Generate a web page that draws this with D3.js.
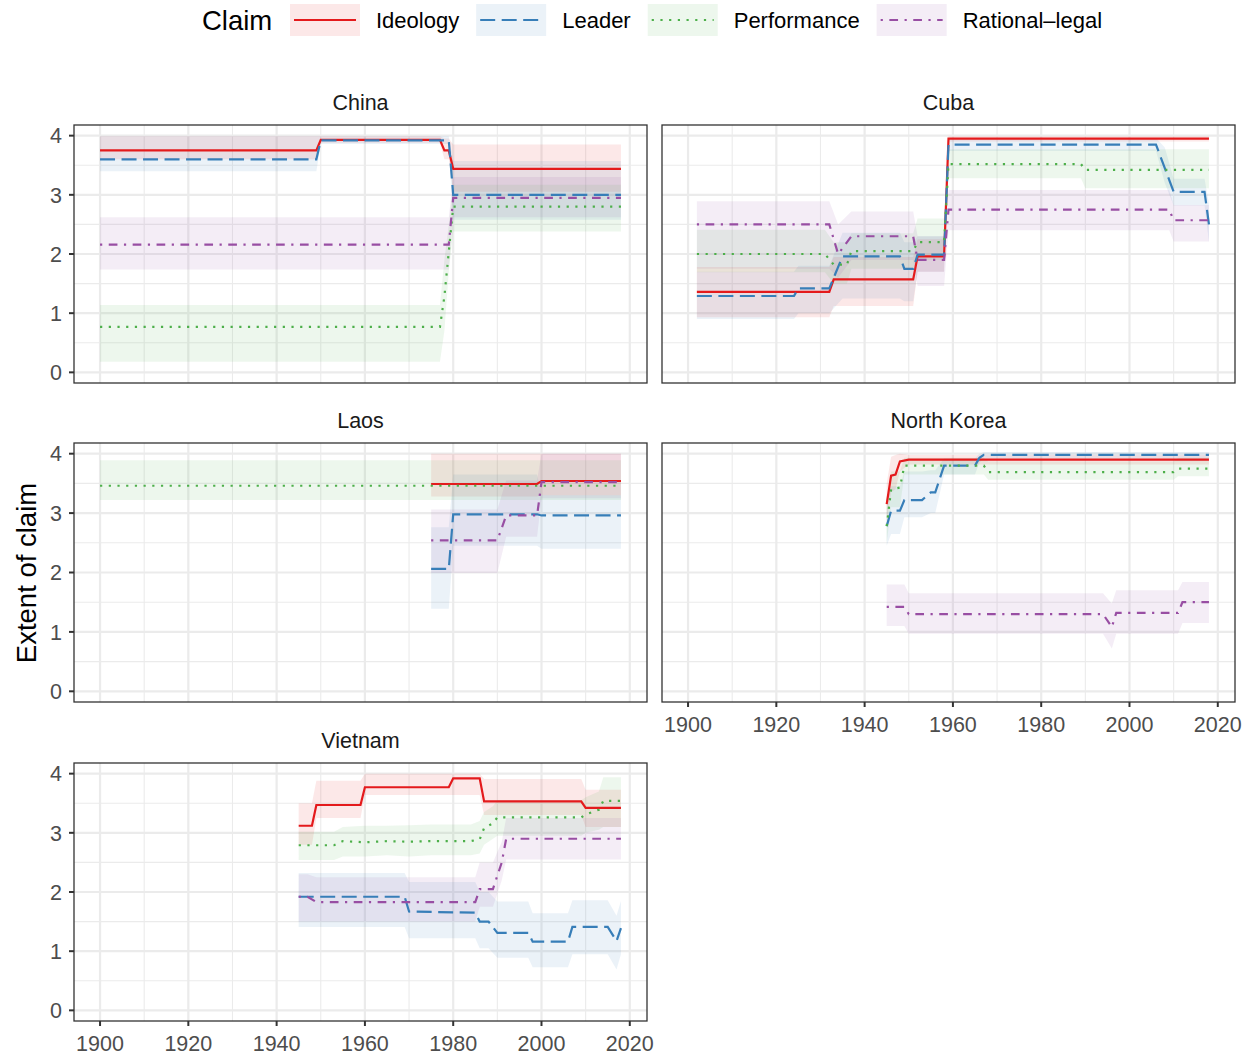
<!DOCTYPE html>
<html>
<head>
<meta charset="utf-8">
<script src="https://cdnjs.cloudflare.com/ajax/libs/d3/7.8.5/d3.min.js"></script>
<style>
  body { margin: 0; background: #fff; }
  svg { display: block; font-family: "Liberation Sans", Arial, Helvetica, sans-serif; }
</style>
</head>
<body>
<svg id="chart" width="1252" height="1057"></svg>
<script>
// categories
const claims = ['Ideology', 'Leader', 'Performance', 'Rational\u2013legal'];
const countries = ['China', 'Cuba', 'Laos', 'North Korea', 'Vietnam'];
const xTicks = [1900, 1920, 1940, 1960, 1980, 2000, 2020];
const xMinor = [1910, 1930, 1950, 1970, 1990, 2010];
const yTicks = [0, 1, 2, 3, 4];
const yMinor = [0.5, 1.5, 2.5, 3.5];

// series: [year, estimate, lower, upper]
const chinaIdeology = [[1900,3.75,3.6,3.99],[1949,3.75,3.6,3.99],[1950,3.93,3.88,3.99],[1977,3.93,3.88,3.99],[1978,3.75,3.6,3.95],[1979,3.75,3.6,3.95],[1980,3.44,3.05,3.85],[2018,3.44,3.05,3.85]];
const chinaLeader = [[1900,3.6,3.4,3.99],[1949,3.6,3.4,3.99],[1950,3.92,3.86,3.99],[1979,3.92,3.86,3.99],[1980,3.0,2.58,3.57],[2018,3.0,2.58,3.57]];
const chinaPerformance = [[1900,0.77,0.18,1.14],[1977,0.77,0.18,1.14],[1978,1.28,0.7,1.9],[1979,2.04,1.7,2.5],[1980,2.8,2.38,3.17],[2018,2.8,2.38,3.17]];
const chinaRational = [[1900,2.16,1.74,2.62],[1979,2.16,1.74,2.62],[1980,2.95,2.62,3.3],[2018,2.95,2.62,3.3]];

const cubaIdeology = [[1902,1.36,0.93,1.78],[1932,1.36,0.93,1.78],[1933,1.57,1.12,1.95],[1951,1.57,1.12,1.95],[1952,1.96,1.7,2.25],[1958,1.96,1.7,2.25],[1959,3.95,3.9,3.99],[2018,3.95,3.9,3.99]];
const cubaLeader = [[1902,1.29,0.9,1.7],[1924,1.29,0.9,1.7],[1925,1.42,1.0,1.8],[1932,1.42,1.0,1.8],[1935,1.96,1.25,2.36],[1948,1.96,1.25,2.36],[1949,1.75,1.2,2.2],[1951,1.75,1.2,2.2],[1952,1.99,1.7,2.3],[1958,1.99,1.7,2.3],[1959,3.85,3.74,3.96],[2006,3.85,3.74,3.96],[2008,3.45,3.2,3.8],[2010,3.05,2.82,3.27],[2017,3.05,2.82,3.27],[2018,2.5,2.2,2.85]];
const cubaPerformance = [[1902,2.0,1.69,2.41],[1931,2.0,1.69,2.41],[1933,1.82,1.5,2.2],[1936,1.82,1.5,2.2],[1937,2.05,1.75,2.35],[1951,2.05,1.75,2.35],[1952,2.2,1.9,2.6],[1958,2.2,1.9,2.6],[1959,3.52,3.28,3.77],[1989,3.52,3.28,3.77],[1990,3.42,3.11,3.77],[2018,3.42,3.11,3.77]];
const cubaRational = [[1902,2.5,1.75,2.89],[1932,2.5,1.75,2.89],[1934,2.0,1.6,2.5],[1937,2.3,1.9,2.72],[1951,2.3,1.9,2.72],[1952,1.9,1.46,2.3],[1958,1.9,1.46,2.3],[1959,2.75,2.4,3.08],[2009,2.75,2.4,3.08],[2010,2.57,2.21,2.83],[2018,2.57,2.21,2.83]];

const laosIdeology = [[1975,3.49,3.28,4.0],[1999,3.49,3.28,4.0],[2000,3.54,3.3,4.0],[2018,3.54,3.3,4.0]];
const laosLeader = [[1975,2.06,1.39,2.76],[1979,2.06,1.39,2.76],[1980,2.98,2.45,3.65],[1999,2.98,2.45,3.65],[2000,2.96,2.4,3.3],[2018,2.96,2.4,3.3]];
const laosPerformance = [[1900,3.46,3.22,3.89],[2018,3.46,3.22,3.89]];
const laosRational = [[1975,2.54,1.99,3.06],[1990,2.54,1.99,3.06],[1992,2.96,2.6,3.55],[1999,2.96,2.6,3.55],[2000,3.52,3.25,4.0],[2018,3.52,3.25,4.0]];

const nkIdeology = [[1945,3.15,2.85,3.5],[1946,3.63,3.35,3.95],[1947,3.65,3.4,3.98],[1948,3.87,3.7,4.0],[1950,3.9,3.82,3.98],[2018,3.9,3.82,3.98]];
const nkLeader = [[1945,2.78,2.45,3.2],[1946,3.04,2.65,3.45],[1948,3.04,2.65,3.45],[1949,3.22,2.93,3.7],[1953,3.22,2.93,3.7],[1955,3.35,3.0,3.72],[1956,3.35,3.0,3.72],[1958,3.8,3.65,3.92],[1965,3.8,3.65,3.92],[1966,3.93,3.85,4.0],[1967,3.98,3.92,4.03],[2018,3.98,3.92,4.03]];
const nkPerformance = [[1945,2.78,2.5,3.1],[1946,3.4,3.1,3.7],[1948,3.43,3.1,3.7],[1949,3.8,3.65,3.93],[1967,3.8,3.65,3.93],[1968,3.69,3.56,3.87],[2010,3.69,3.56,3.87],[2011,3.75,3.62,3.93],[2018,3.75,3.62,3.93]];
const nkRational = [[1945,1.42,1.1,1.8],[1949,1.42,1.1,1.8],[1950,1.3,0.97,1.65],[1994,1.3,0.97,1.65],[1996,1.08,0.72,1.48],[1997,1.32,0.97,1.7],[2011,1.32,0.97,1.7],[2012,1.5,1.15,1.84],[2018,1.5,1.15,1.84]];

const vnIdeology = [[1945,3.12,2.8,3.5],[1948,3.12,2.8,3.5],[1949,3.47,3.25,3.88],[1959,3.47,3.25,3.88],[1960,3.77,3.64,4.0],[1979,3.77,3.64,4.0],[1980,3.92,3.64,4.0],[1986,3.92,3.64,4.0],[1987,3.53,3.3,3.91],[2009,3.53,3.3,3.91],[2010,3.42,3.1,3.73],[2018,3.42,3.1,3.73]];
const vnLeader = [[1945,1.92,1.41,2.32],[1969,1.92,1.41,2.32],[1970,1.67,1.22,2.17],[1985,1.65,1.22,2.17],[1986,1.5,1.05,2.0],[1988,1.5,1.05,2.0],[1990,1.31,0.89,1.84],[1997,1.31,0.89,1.84],[1998,1.16,0.73,1.64],[2006,1.16,0.73,1.64],[2007,1.41,0.95,1.86],[2015,1.41,0.95,1.86],[2017,1.17,0.69,1.6],[2018,1.39,0.95,1.85]];
const vnPerformance = [[1945,2.79,2.54,3.02],[1953,2.79,2.54,3.02],[1955,2.86,2.6,3.1],[1960,2.84,2.6,3.12],[1965,2.86,2.62,3.12],[1970,2.85,2.6,3.13],[1975,2.86,2.62,3.14],[1984,2.86,2.62,3.14],[1986,2.89,2.65,3.2],[1987,3.08,2.8,3.35],[1989,3.16,2.9,3.45],[1990,3.26,2.95,3.55],[2009,3.26,2.95,3.55],[2010,3.31,3.0,3.6],[2013,3.39,3.05,3.7],[2014,3.54,3.1,3.94],[2018,3.54,3.1,3.94]];
const vnRational = [[1945,1.92,1.5,2.3],[1947,1.92,1.5,2.3],[1949,1.83,1.5,2.25],[1985,1.83,1.5,2.25],[1986,2.05,1.75,2.5],[1989,2.05,1.75,2.5],[1991,2.5,2.2,2.85],[1992,2.9,2.55,3.25],[2018,2.9,2.55,3.25]];

const seriesByCountry = {
  'China': [chinaIdeology, chinaLeader, chinaPerformance, chinaRational],
  'Cuba': [cubaIdeology, cubaLeader, cubaPerformance, cubaRational],
  'Laos': [laosIdeology, laosLeader, laosPerformance, laosRational],
  'North Korea': [nkIdeology, nkLeader, nkPerformance, nkRational],
  'Vietnam': [vnIdeology, vnLeader, vnPerformance, vnRational]
};

const colors = ['#E41A1C', '#377EB8', '#4DAF4A', '#984EA3'];
const dashes = [null, '15,6.5', '2.2,6.5', '2.2,6.5,8.7,6.5'];

// layout
const cols = [[74, 647], [662, 1235]];
const rows = [[125, 383], [443, 702], [763, 1021]];
const tickLen = 5;

const svg = d3.select('#chart');
const defs = svg.append('defs');

countries.forEach((country, i) => {
  const col = i % 2, row = Math.floor(i / 2);
  const [x0, x1] = cols[col];
  const [y0, y1] = rows[row];
  const x = d3.scaleLinear().domain([1894.1, 2023.9]).range([x0, x1]);
  const y = d3.scaleLinear().domain([-0.18, 4.18]).range([y1, y0]);
  const bottomAxis = (i === 3 || i === 4);
  const leftAxis = col === 0;

  const g = svg.append('g');

  // strip label
  g.append('text')
    .attr('x', (x0 + x1) / 2).attr('y', y0 - 15)
    .attr('text-anchor', 'middle')
    .attr('font-size', 21.5).attr('fill', '#1A1A1A')
    .text(country);

  // grid
  const grid = g.append('g').attr('stroke', '#EBEBEB');
  grid.selectAll('.xm').data(xMinor).join('line')
    .attr('x1', d => x(d)).attr('x2', d => x(d)).attr('y1', y0).attr('y2', y1)
    .attr('stroke-width', 1.1);
  grid.selectAll('.ym').data(yMinor).join('line')
    .attr('y1', d => y(d)).attr('y2', d => y(d)).attr('x1', x0).attr('x2', x1)
    .attr('stroke-width', 1.1);
  grid.selectAll('.xM').data(xTicks).join('line')
    .attr('x1', d => x(d)).attr('x2', d => x(d)).attr('y1', y0).attr('y2', y1)
    .attr('stroke-width', 2.2);
  grid.selectAll('.yM').data(yTicks).join('line')
    .attr('y1', d => y(d)).attr('y2', d => y(d)).attr('x1', x0).attr('x2', x1)
    .attr('stroke-width', 2.2);

  // clip
  const clipId = 'clip' + i;
  defs.append('clipPath').attr('id', clipId)
    .append('rect').attr('x', x0).attr('y', y0).attr('width', x1 - x0).attr('height', y1 - y0);

  const plot = g.append('g').attr('clip-path', `url(#${clipId})`);
  const data = seriesByCountry[country];

  const area = d3.area().x(d => x(d[0])).y0(d => y(d[2])).y1(d => y(d[3]));
  const line = d3.line().x(d => x(d[0])).y(d => y(d[1]));

  plot.selectAll('path.ribbon').data(data).join('path')
    .attr('class', 'ribbon')
    .attr('d', area)
    .attr('fill', (d, k) => colors[k])
    .attr('fill-opacity', 0.1);

  plot.selectAll('path.line').data(data).join('path')
    .attr('class', 'line')
    .attr('d', line)
    .attr('fill', 'none')
    .attr('stroke', (d, k) => colors[k])
    .attr('stroke-width', 2.2)
    .attr('stroke-dasharray', (d, k) => dashes[k]);

  // border
  g.append('rect')
    .attr('x', x0).attr('y', y0).attr('width', x1 - x0).attr('height', y1 - y0)
    .attr('fill', 'none').attr('stroke', '#333333').attr('stroke-width', 1.3);

  if (leftAxis) {
    const ya = g.append('g');
    ya.selectAll('line').data(yTicks).join('line')
      .attr('x1', x0 - tickLen).attr('x2', x0)
      .attr('y1', d => y(d)).attr('y2', d => y(d))
      .attr('stroke', '#333333').attr('stroke-width', 2);
    ya.selectAll('text').data(yTicks).join('text')
      .attr('x', x0 - tickLen - 7).attr('y', d => y(d) + 7.8)
      .attr('text-anchor', 'end').attr('font-size', 21.5).attr('fill', '#4D4D4D')
      .text(d => d);
  }
  if (bottomAxis) {
    const xa = g.append('g');
    xa.selectAll('line').data(xTicks).join('line')
      .attr('x1', d => x(d)).attr('x2', d => x(d))
      .attr('y1', y1).attr('y2', y1 + tickLen)
      .attr('stroke', '#333333').attr('stroke-width', 2);
    xa.selectAll('text').data(xTicks).join('text')
      .attr('x', d => x(d)).attr('y', y1 + 30)
      .attr('text-anchor', 'middle').attr('font-size', 21.5).attr('fill', '#4D4D4D')
      .text(d => d);
  }
});

// y axis title
svg.append('text')
  .attr('transform', `translate(36, ${(rows[0][0] + rows[2][1]) / 2}) rotate(-90)`)
  .attr('text-anchor', 'middle').attr('font-size', 27.5).attr('fill', '#000')
  .text('Extent of claim');

// legend
const legend = svg.append('g');
legend.append('text')
  .attr('x', 202).attr('y', 30)
  .attr('font-size', 27.5).attr('fill', '#000')
  .text('Claim');

let lx = 290;
claims.forEach((c, k) => {
  const key = legend.append('g');
  key.append('rect').attr('x', lx).attr('y', 4).attr('width', 70).attr('height', 32)
    .attr('fill', colors[k]).attr('fill-opacity', 0.1);
  key.append('line').attr('x1', lx + 4).attr('x2', lx + 66).attr('y1', 20).attr('y2', 20)
    .attr('stroke', colors[k]).attr('stroke-width', 2.2)
    .attr('stroke-dasharray', dashes[k]);
  const t = key.append('text').attr('x', lx + 86).attr('y', 28)
    .attr('font-size', 22).attr('fill', '#000').text(c);
  lx += 86 + t.node().getComputedTextLength() + 17;
});
</script>
</body>
</html>
